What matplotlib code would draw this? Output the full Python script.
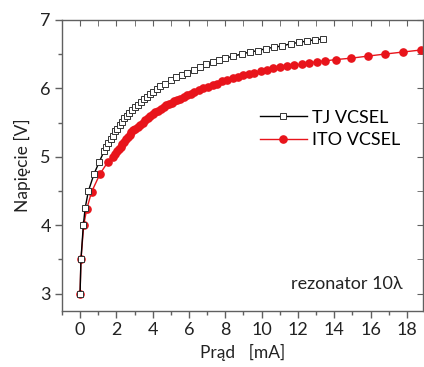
import matplotlib
matplotlib.use("Agg")
import matplotlib.pyplot as plt
from matplotlib.ticker import MultipleLocator

plt.rcParams['font.family'] = ['Lato', 'DejaVu Sans']

# TJ VCSEL: prad [mA], napiecie [V]
i_tj = [0.0, 0.05, 0.18, 0.28, 0.46, 0.77, 1.05, 1.32, 1.44, 1.56, 1.68, 1.8,
        1.93, 2.05, 2.18, 2.31, 2.44, 2.57, 2.71, 2.86, 3.01, 3.17, 3.33, 3.5,
        3.68, 3.86, 4.04, 4.22, 4.4, 4.7, 5.0, 5.3, 5.6, 5.9, 6.25, 6.6, 6.95,
        7.3, 7.65, 8.0, 8.45, 8.9, 9.35, 9.8, 10.25, 10.7, 11.15, 11.6, 12.05,
        12.5, 12.95, 13.4]
v_tj = [3.0, 3.5, 4.0, 4.25, 4.5, 4.75, 4.92, 5.08, 5.14, 5.20, 5.26, 5.31,
        5.37, 5.41, 5.46, 5.51, 5.56, 5.60, 5.64, 5.68, 5.72, 5.76, 5.80, 5.84,
        5.88, 5.91, 5.95, 5.99, 6.03, 6.07, 6.12, 6.16, 6.20, 6.23, 6.27, 6.31,
        6.35, 6.38, 6.41, 6.44, 6.47, 6.50, 6.53, 6.55, 6.58, 6.60, 6.62, 6.65,
        6.67, 6.69, 6.71, 6.72]

# ITO VCSEL
i_ito = [0.0, 0.05, 0.2, 0.37, 0.64, 1.1, 1.52, 1.83, 1.93, 2.03, 2.13, 2.23,
         2.33, 2.43, 2.53, 2.63, 2.73, 2.83, 2.93, 3.05, 3.18, 3.31, 3.44, 3.58,
         3.72, 3.86, 4.0, 4.15, 4.3, 4.45, 4.6, 4.75, 4.9, 5.05, 5.2, 5.35, 5.5,
         5.7, 5.9, 6.1, 6.3, 6.55, 6.8, 7.05, 7.3, 7.55, 7.8, 8.1, 8.4, 8.7,
         9.0, 9.3, 9.6, 9.95, 10.3, 10.65, 11.0, 11.4, 11.8, 12.2, 12.6, 13.05,
         13.5, 14.1, 14.95, 15.85, 16.8, 17.8, 18.8, 19.7]
v_ito = [3.0, 3.5, 4.0, 4.24, 4.49, 4.75, 4.92, 5.00, 5.04, 5.08, 5.12, 5.15,
         5.19, 5.22, 5.26, 5.29, 5.32, 5.36, 5.39, 5.41, 5.44, 5.47, 5.50, 5.53,
         5.56, 5.59, 5.62, 5.65, 5.67, 5.70, 5.72, 5.75, 5.77, 5.79, 5.81, 5.83,
         5.85, 5.87, 5.90, 5.92, 5.95, 5.97, 6.00, 6.02, 6.05, 6.07, 6.10, 6.12,
         6.15, 6.17, 6.19, 6.21, 6.23, 6.25, 6.27, 6.29, 6.31, 6.32, 6.34, 6.35,
         6.37, 6.39, 6.40, 6.42, 6.44, 6.47, 6.50, 6.53, 6.56, 6.59]

x_ticks = [0, 2, 4, 6, 8, 10, 12, 14, 16, 18]
y_ticks = [3, 4, 5, 6, 7]

fig = plt.figure(figsize=(4.24, 3.67), dpi=100)
ax = fig.add_axes([0.146, 0.153, 0.852, 0.793])

ax.plot(i_ito, v_ito, '-o', color='#e8141b', lw=1.0, ms=5.2,
        mfc='#e8141b', mec='#e8141b', label='ITO VCSEL', zorder=2)
ax.plot(i_tj, v_tj, '-s', color='black', lw=1.0, ms=4.2,
        mfc='white', mec='#333333', mew=0.7, label='TJ VCSEL', zorder=3)

ax.set_xlim(-1, 18.9)
ax.set_ylim(2.75, 7)
ax.set_xticks(x_ticks)
ax.set_yticks(y_ticks)
ax.xaxis.set_minor_locator(MultipleLocator(1))
ax.yaxis.set_minor_locator(MultipleLocator(0.5))

gray = '#606060'
for s in ax.spines.values():
    s.set_color(gray)
    s.set_linewidth(1.0)
ax.tick_params(which='both', direction='out', color=gray, width=1.0,
               labelsize=13, labelcolor='#222222', pad=3)
ax.tick_params(which='major', length=5)
ax.tick_params(which='minor', length=3)

# mirrored ticks pointing inward on top and right
top = ax.secondary_xaxis('top')
top.set_xticks(x_ticks)
top.xaxis.set_minor_locator(MultipleLocator(1))
top.tick_params(which='both', direction='in', length=4, color=gray,
                labeltop=False)
top.spines['top'].set_visible(False)
right = ax.secondary_yaxis('right')
right.set_yticks(y_ticks)
right.yaxis.set_minor_locator(MultipleLocator(0.5))
right.tick_params(which='both', direction='in', length=4, color=gray,
                  labelright=False)
right.spines['right'].set_visible(False)

ax.set_xlabel('Prąd   [mA]', fontsize=12.5, color='#222222', labelpad=4)
ax.set_ylabel('Napięcie [V]', fontsize=12.5, color='#222222', labelpad=7)

handles, labels = ax.get_legend_handles_labels()
ax.legend(handles[::-1], labels[::-1], loc='center left',
          bbox_to_anchor=(0.548, 0.625), frameon=False, fontsize=13,
          handlelength=2.6, handletextpad=0.3, labelspacing=0.35,
          borderpad=0, borderaxespad=0, numpoints=1)

ax.text(0.942, 0.093, 'rezonator 10λ', transform=ax.transAxes,
        ha='right', va='center', fontsize=13, color='#222222')

fig.savefig('out.png', dpi=100)
